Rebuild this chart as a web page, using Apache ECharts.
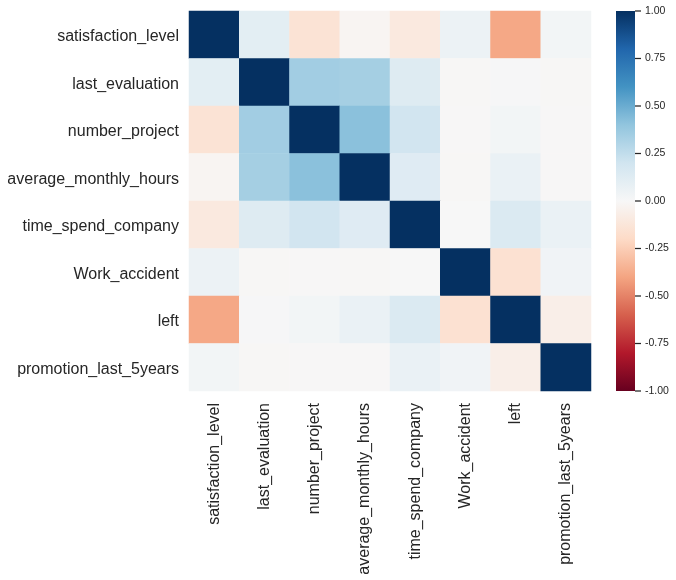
<!DOCTYPE html>
<html><head><meta charset="utf-8">
<style>html,body{margin:0;padding:0;background:#fff}#c{width:676px;height:580px}</style>
<script src="https://cdn.jsdelivr.net/npm/echarts@6/dist/echarts.min.js"></script>
</head><body><div id="c"></div>
<script>
const categories = ['satisfaction_level','last_evaluation','number_project','average_monthly_hours','time_spend_company','Work_accident','left','promotion_last_5years'];
const row0 = [1, 0.105, -0.143, -0.020, -0.101, 0.059, -0.388, 0.026];
const row1 = [0.105, 1, 0.349, 0.340, 0.132, -0.007, 0.007, -0.009];
const row2 = [-0.143, 0.349, 1, 0.417, 0.197, -0.005, 0.024, -0.006];
const row3 = [-0.020, 0.340, 0.417, 1, 0.128, -0.010, 0.071, -0.004];
const row4 = [-0.101, 0.132, 0.197, 0.128, 1, 0.002, 0.145, 0.067];
const row5 = [0.059, -0.007, -0.005, -0.010, 0.002, 1, -0.155, 0.039];
const row6 = [-0.388, 0.007, 0.024, 0.071, 0.145, -0.155, 1, -0.062];
const row7 = [0.026, -0.009, -0.006, -0.004, 0.067, 0.039, -0.062, 1];
const rows = [row0,row1,row2,row3,row4,row5,row6,row7];
const rdBu = ['#67001f','#b2182b','#d6604d','#f4a582','#fddbc7','#f7f7f7','#d1e5f0','#92c5de','#4393c3','#2166ac','#053061'];
const colorbarRange = [[0,-1,1,1]];
const colorbarTicks = [-1,-0.75,-0.5,-0.25,0,0.25,0.5,0.75,1];
const data = [];
rows.forEach((r,y)=>r.forEach((v,x)=>data.push([x,y,v])));
const font = 'Liberation Sans';
const ink = '#262626';
const chart = echarts.init(document.getElementById('c'),null,{renderer:'canvas'});
chart.setOption({
  animation:false,
  backgroundColor:'#fff',
  textStyle:{fontFamily:font},
  grid:[
    {left:189,top:11,width:402,height:380},
    {left:616,top:11,width:19,height:380}
  ],
  xAxis:[
    {type:'category',gridIndex:0,data:categories,axisLine:{show:false},axisTick:{show:false},splitLine:{show:false},
     axisLabel:{rotate:90,interval:0,margin:12,fontSize:16,color:ink,fontFamily:font}},
    {type:'value',gridIndex:1,show:false,min:0,max:1}
  ],
  yAxis:[
    {type:'category',gridIndex:0,inverse:true,data:categories,axisLine:{show:false},axisTick:{show:false},splitLine:{show:false},
     axisLabel:{interval:0,margin:10,fontSize:16,color:ink,fontFamily:font,
       formatter:v=>'{a|'+v+'}',
       rich:{a:{fontSize:16,color:ink,fontFamily:font,padding:[4,0,0,0]}}}},
    {type:'value',gridIndex:1,position:'right',min:-1,max:1,interval:0.25,
     axisLine:{show:false},splitLine:{show:false},axisTick:{show:false},
     axisLabel:{margin:10,fontSize:10.5,color:ink,fontFamily:font,formatter:v=>v.toFixed(2),showMinLabel:true,showMaxLabel:true}}
  ],
  visualMap:{type:'continuous',show:false,min:-1,max:1,seriesIndex:0,inRange:{color:rdBu}},
  series:[
    {type:'heatmap',xAxisIndex:0,yAxisIndex:0,data:data,silent:true,label:{show:false},itemStyle:{borderWidth:0}},
    {type:'custom',xAxisIndex:1,yAxisIndex:1,data:colorbarRange,silent:true,clip:false,
     encode:{x:[0,2],y:[1,3]},
     renderItem:(params,api)=>{
       const a = api.coord([api.value(0),api.value(1)]);
       const b = api.coord([api.value(2),api.value(3)]);
       return {type:'rect',
         shape:{x:a[0],y:b[1],width:b[0]-a[0],height:a[1]-b[1]},
         style:{fill:new echarts.graphic.LinearGradient(0,1,0,0,rdBu.map((c,i)=>({offset:i/(rdBu.length-1),color:c})))}};
     }},
    {type:'custom',xAxisIndex:1,yAxisIndex:1,data:colorbarTicks.map(v=>[1,v]),silent:true,clip:false,
     encode:{x:0,y:1},
     renderItem:(params,api)=>{
       const p = api.coord([api.value(0),api.value(1)]);
       return {type:'line',shape:{x1:p[0],y1:p[1],x2:p[0]+6,y2:p[1]},style:{stroke:ink,lineWidth:1.25}};
     }}
  ]
});
</script></body></html>
